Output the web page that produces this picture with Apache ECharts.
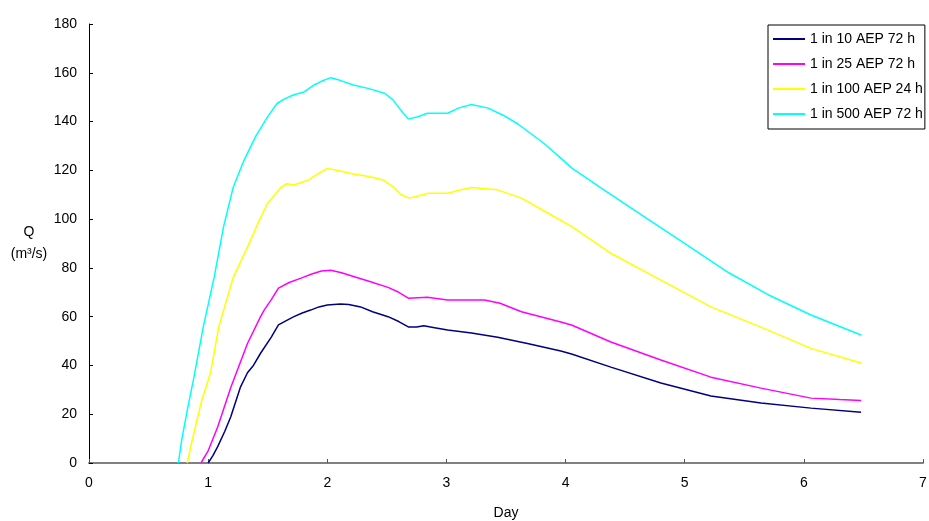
<!DOCTYPE html>
<html>
<head>
<meta charset="utf-8">
<script src="https://cdn.jsdelivr.net/npm/echarts@6/dist/echarts.min.js"></script>
<style>
html, body { margin: 0; padding: 0; background: #fff; }
#chart { width: 929px; height: 521px; }
</style>
</head>
<body>
<div id="chart"></div>
<script>
var seriesNames = ["1 in 10 AEP 72 h", "1 in 25 AEP 72 h", "1 in 100 AEP 24 h", "1 in 500 AEP 72 h"];
var seriesColors = ["#000080", "#FF00FF", "#FFFF00", "#00FFFF"];

// [day, Q]
var aep10 = [[1.00,0],[1.04,3],[1.08,6.7],[1.14,13],[1.19,19],[1.27,31],[1.33,37],[1.38,40],[1.44,45],[1.53,51.6],[1.59,56.6],[1.66,58.5],[1.72,60],[1.79,61.5],[1.86,62.7],[1.93,64],[2.00,64.8],[2.11,65.2],[2.18,65],[2.28,64],[2.38,62],[2.51,60],[2.60,58],[2.68,55.8],[2.75,55.8],[2.81,56.3],[2.90,55.5],[3.01,54.5],[3.21,53.3],[3.43,51.6],[3.68,49],[3.96,45.9],[4.05,44.7],[4.38,39.3],[4.80,32.8],[5.22,27.5],[5.64,24.6],[6.06,22.5],[6.48,20.8]];
var aep25 = [[0.94,0],[1.00,5],[1.08,14.8],[1.19,31],[1.33,49],[1.44,60],[1.47,62.7],[1.53,67],[1.59,71.7],[1.68,74],[1.78,75.8],[1.87,77.5],[1.95,78.7],[2.03,79],[2.12,78],[2.22,76.5],[2.35,74.5],[2.51,72],[2.60,70],[2.68,67.6],[2.76,67.8],[2.84,68],[3.01,66.8],[3.32,66.8],[3.45,65.5],[3.63,62],[3.96,57.8],[4.05,56.6],[4.38,49.6],[4.80,42.2],[5.22,35.2],[5.64,30.7],[6.06,26.6],[6.30,26],[6.48,25.6]];
var aep100 = [[0.825,0],[0.86,8],[0.94,24.6],[1.02,37],[1.09,56],[1.21,76],[1.33,88.5],[1.43,99.6],[1.50,106.6],[1.56,110],[1.61,113],[1.66,114.5],[1.72,114],[1.78,115],[1.84,116],[1.92,118.5],[2.00,120.8],[2.08,120],[2.22,118.5],[2.35,117.5],[2.47,116],[2.56,113],[2.62,110],[2.69,108.6],[2.76,109.5],[2.85,110.6],[3.01,110.6],[3.12,112],[3.21,113],[3.43,112],[3.63,108.6],[3.85,102.5],[4.05,97],[4.38,86],[4.80,75],[5.22,64],[5.64,55.7],[6.06,47],[6.48,41]];
var aep500 = [[0.75,0],[0.78,10],[0.825,21.7],[0.88,35],[0.96,56],[1.05,76],[1.13,97],[1.21,113],[1.30,124],[1.40,134],[1.50,142],[1.58,147.5],[1.65,149.5],[1.72,151],[1.80,152],[1.89,155],[1.95,156.5],[2.03,158],[2.10,157],[2.22,155],[2.35,153.5],[2.48,151.6],[2.55,149],[2.62,144.5],[2.68,141],[2.76,142],[2.84,143.4],[3.01,143.4],[3.10,145.5],[3.21,147],[3.35,145.5],[3.48,142.5],[3.60,139],[3.82,131],[3.96,125],[4.05,121],[4.30,112.7],[4.64,101.6],[5.03,89],[5.37,78],[5.70,69],[6.06,60.7],[6.48,52.5]];
var allData = [aep10, aep25, aep100, aep500];

var chart = echarts.init(document.getElementById("chart"));
var font = "Arial, 'Liberation Sans', sans-serif";

var seriesList = [];
for (var i = 0; i < allData.length; i++) {
	seriesList.push({
		name: seriesNames[i],
		type: "line",
		data: allData[i],
		showSymbol: false,
		symbol: "none",
		lineStyle: { color: seriesColors[i], width: 1.5 },
		itemStyle: { color: seriesColors[i] }
	});
}

var option = {
	animation: false,
	backgroundColor: "#fff",
	textStyle: { fontFamily: font },
	grid: { left: 89, right: 6, top: 24, bottom: 58, containLabel: false, outerBoundsMode: "none" },
	legend: {
		orient: "vertical",
		left: 768,
		top: 25,
		data: seriesNames,
		icon: "rect",
		itemWidth: 32,
		itemHeight: 2,
		itemGap: 9,
		padding: [6, 2, 7, 5],
		borderColor: "#000",
		borderWidth: 1,
		backgroundColor: "#fff",
		textStyle: { fontSize: 14, color: "#000", fontFamily: font, lineHeight: 16 }
	},
	xAxis: {
		type: "value",
		min: 0,
		max: 7,
		interval: 1,
		name: "Day",
		nameLocation: "middle",
		nameGap: 43,
		nameTextStyle: { fontSize: 14, color: "#000", fontFamily: font },
		axisLine: { lineStyle: { color: "#808080", width: 2 } },
		axisTick: { inside: true, length: 4, lineStyle: { color: "#555" } },
		axisLabel: { fontSize: 14, color: "#000", margin: 13, fontFamily: font },
		splitLine: { show: false }
	},
	yAxis: {
		type: "value",
		min: 0,
		max: 180,
		interval: 20,
		name: "Q\n(m³/s)",
		nameLocation: "middle",
		nameRotate: 0,
		nameGap: 60,
		nameTextStyle: { fontSize: 14, color: "#000", fontFamily: font, lineHeight: 22, align: "center" },
		axisLine: { show: true, lineStyle: { color: "#000", width: 1 } },
		axisTick: { show: true, inside: true, length: 4, lineStyle: { color: "#000" } },
		axisLabel: { fontSize: 14, color: "#000", margin: 12, fontFamily: font },
		splitLine: { show: false }
	},
	series: seriesList
};

chart.setOption(option);
</script>
</body>
</html>
